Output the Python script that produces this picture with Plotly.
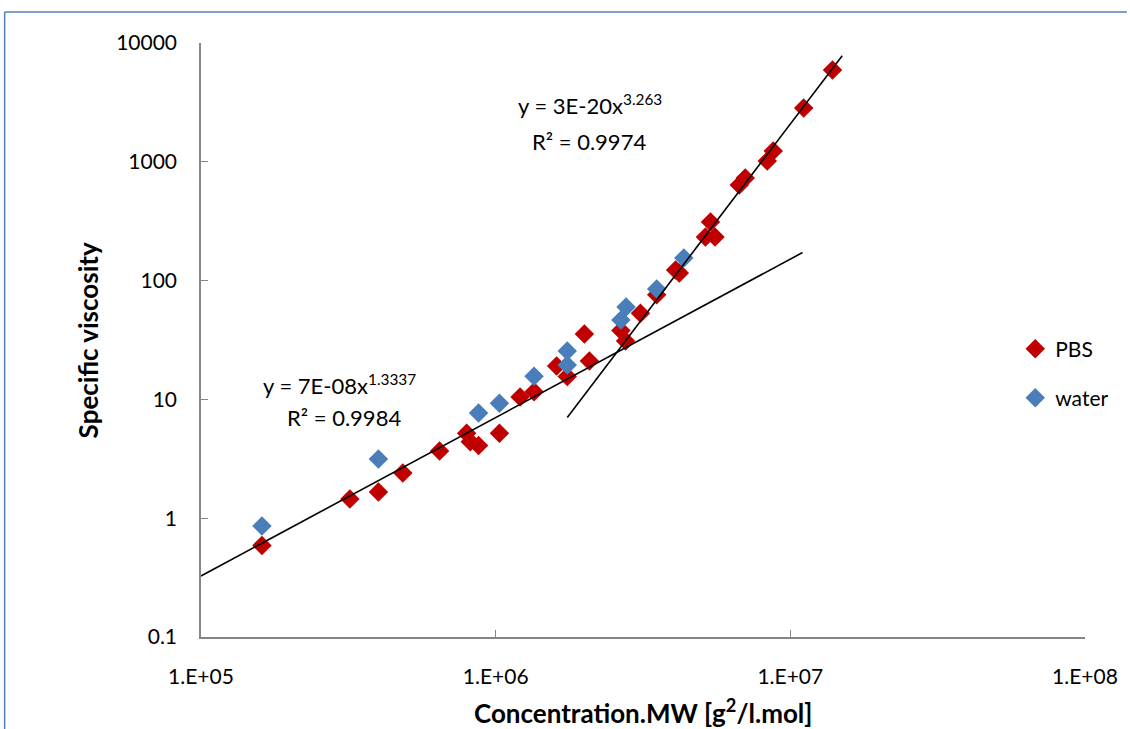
import plotly.graph_objects as go

# PBS data (red)
pbs_x = [1.61e5, 3.2e5, 4.0e5, 4.84e5, 6.45e5, 7.97e5, 8.2e5, 8.75e5, 1.03e6, 1.21e6,
         1.35e6, 1.61e6, 1.75e6, 2.0e6, 2.08e6, 2.66e6, 2.76e6, 3.1e6, 3.52e6, 4.08e6,
         4.2e6, 5.15e6, 5.36e6, 5.55e6, 6.71e6, 7.03e6, 8.35e6, 8.75e6, 1.11e7, 1.39e7]
pbs_y = [0.59, 1.45, 1.66, 2.4, 3.68, 5.2, 4.4, 4.1, 5.2, 10.5,
         11.6, 19.1, 15.6, 35.6, 21.0, 38.0, 31.0, 53.0, 76.0, 123.0,
         116.0, 233.0, 311.0, 233.0, 638.0, 731.0, 1016.0, 1232.0, 2838.0, 5930.0]

# water data (blue)
water_x = [1.61e5, 4.0e5, 8.75e5, 1.03e6, 1.35e6, 1.75e6, 1.75e6, 2.66e6, 2.77e6, 3.52e6, 4.35e6]
water_y = [0.86, 3.15, 7.7, 9.3, 15.7, 25.5, 19.5, 46.6, 60.0, 85.0, 155.0]

# Trendlines (power fits shown on chart)
fit1_coef, fit1_exp, fit1_range = 7e-8, 1.3337, [1.0e5, 1.1e7]
fit2_coef, fit2_exp, fit2_range = 3e-20, 3.263, [1.75e6, 1.5e7]

x_ticks = [1e5, 1e6, 1e7, 1e8]
x_ticktext = ["1.E+05", "1.E+06", "1.E+07", "1.E+08"]
y_ticks = [0.1, 1, 10, 100, 1000, 10000]
y_ticktext = ["0.1", "1", "10", "100", "1000", "10000"]

FONT = "Lato"
RED = "#C00000"
BLUE = "#4A7EBB"

fig = go.Figure()
fig.add_trace(go.Scatter(x=pbs_x, y=pbs_y, mode="markers", name="PBS",
                         marker=dict(symbol="diamond", size=15, color=RED), legend="legend"))
fig.add_trace(go.Scatter(x=water_x, y=water_y, mode="markers", name="water",
                         marker=dict(symbol="diamond", size=15, color=BLUE), legend="legend2"))
for c, e, r in [(fit1_coef, fit1_exp, fit1_range), (fit2_coef, fit2_exp, fit2_range)]:
    fig.add_trace(go.Scatter(x=r, y=[c * v ** e for v in r], mode="lines",
                             line=dict(color="black", width=1.6), showlegend=False,
                             hoverinfo="skip"))

axis_common = dict(type="log", showgrid=False, zeroline=False, showline=True,
                   linecolor="#868686", linewidth=1.5, ticks="inside", ticklen=7,
                   tickcolor="#868686", tickwidth=1.2, mirror=False,
                   tickfont=dict(family=FONT, size=21, color="black"))

fig.update_xaxes(range=[5, 8], tickvals=x_ticks, ticktext=x_ticktext,
                 ticklabelstandoff=20, **axis_common)
fig.update_yaxes(range=[-1, 4], tickvals=y_ticks, ticktext=y_ticktext,
                 ticklabelstandoff=18, **axis_common)

W, H = 1130, 729
L, R, T, B = 201, 42, 43, 92
pw, ph = W - L - R, H - T - B

def px(x):
    return (x - L) / pw

def py(y):
    return (H - B - y) / ph

ann_font = dict(family=FONT, size=22, color="black")

def ann(x, y, text, font=ann_font, **kw):
    return dict(x=px(x), y=py(y), xref="paper", yref="paper", text=text,
                xanchor="center", yanchor="middle", showarrow=False, font=font, **kw)

title_font = dict(family=FONT, size=26, color="black")
annotations = [
    ann(340, 384, "y = 7E-08x<sup>1.3337</sup>"),
    ann(344, 417, "R² = 0.9984"),
    ann(591, 104, "y = 3E-20x<sup>3.263</sup>"),
    ann(590, 141, "R² = 0.9974"),
    ann(645, 711, "<b>Concentration.MW [g<sup>2</sup>/l.mol]</b>", title_font),
    ann(88, 340, "<b>Specific viscosity</b>", title_font, textangle=-90),
]

border = "#4F81BD"
shapes = [
    dict(type="line", xref="paper", yref="paper", x0=px(4), x1=px(1130), y0=py(12), y1=py(12),
         line=dict(color=border, width=1.5)),
    dict(type="line", xref="paper", yref="paper", x0=px(4), x1=px(4), y0=py(12), y1=py(729),
         line=dict(color=border, width=1.5)),
]

leg_font = dict(family=FONT, size=21, color="black")
fig.update_layout(
    width=W, height=H,
    margin=dict(l=L, r=R, t=T, b=B),
    paper_bgcolor="white", plot_bgcolor="white",
    annotations=annotations, shapes=shapes,
    legend=dict(x=px(1018), y=py(349), xanchor="left", yanchor="middle",
                font=leg_font, bgcolor="rgba(0,0,0,0)", borderwidth=0),
    legend2=dict(x=px(1018), y=py(398), xanchor="left", yanchor="middle",
                 font=leg_font, bgcolor="rgba(0,0,0,0)", borderwidth=0),
)

fig.write_html("out.html", config={"displayModeBar": False},
               post_script="document.body.style.margin='0';")
